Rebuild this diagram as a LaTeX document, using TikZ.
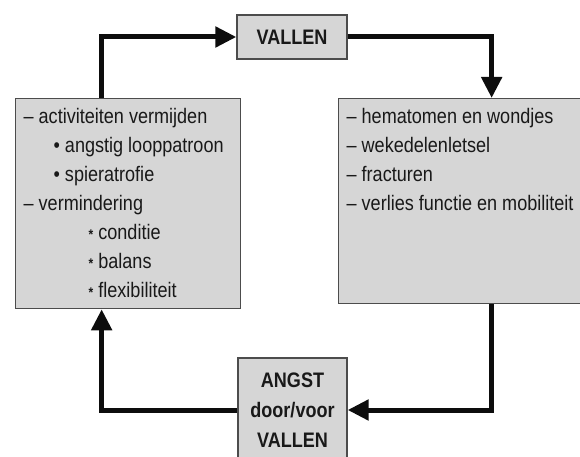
\documentclass[tikz,border=0pt]{standalone}
\usepackage{fontspec}
\setmainfont[FakeStretch=0.86]{Liberation Sans}
\usetikzlibrary{arrows.meta}

\newcommand{\ster}{\raisebox{0.3pt}{\fontsize{14}{14}\selectfont\bfseries *}}

\begin{document}
\begin{tikzpicture}[x=1pt,y=-1pt,
  vak/.style={draw=black!70, line width=1.3pt, fill=black!16, text=black!90,
    inner xsep=8pt, inner ysep=0pt, font=\fontsize{21}{29}\selectfont},
  pijl/.style={draw=black!95, line width=5pt, -{Triangle[length=21pt,width=20pt]}}]
\useasboundingbox (0,0) rectangle (580,457);
\clip (0,0) rectangle (580,457);

\node[vak, minimum width=110pt, minimum height=44pt, font=\fontsize{21}{29}\selectfont\bfseries] (vallen) at (292,37) {VALLEN};

\node[vak, anchor=north west] (gedrag) at (15,98) {\parbox[t][210pt][t]{209pt}{\raggedright
\rule{0pt}{25pt}– activiteiten vermijden\\
\hspace*{30pt}• angstig looppatroon\\
\hspace*{30pt}• spieratrofie\\
– vermindering\\
\hspace*{65pt}\ster{} conditie\\
\hspace*{65pt}\ster{} balans\\
\hspace*{65pt}\ster{} flexibiliteit}};

\node[vak, anchor=north west] (gevolgen) at (338,98) {\parbox[t][205pt][t]{290pt}{\raggedright
\rule{0pt}{25pt}– hematomen en wondjes\\
– wekedelenletsel\\
– fracturen\\
– verlies functie en mobiliteit}};

\node[vak, minimum width=109pt, minimum height=104pt, align=center,
  font=\fontsize{21}{30}\selectfont\bfseries] (angst) at (292.5,410) {ANGST\\door/voor\\VALLEN};

\path[pijl] ([xshift=-26.5pt]gedrag.north) |- (vallen.west);
\path[pijl] (vallen.east) -| (gevolgen.north);
\path[pijl] (gevolgen.south) |- (angst.east);
\path[pijl] (angst.west) -| ([xshift=-26.5pt]gedrag.south);
\end{tikzpicture}
\end{document}
